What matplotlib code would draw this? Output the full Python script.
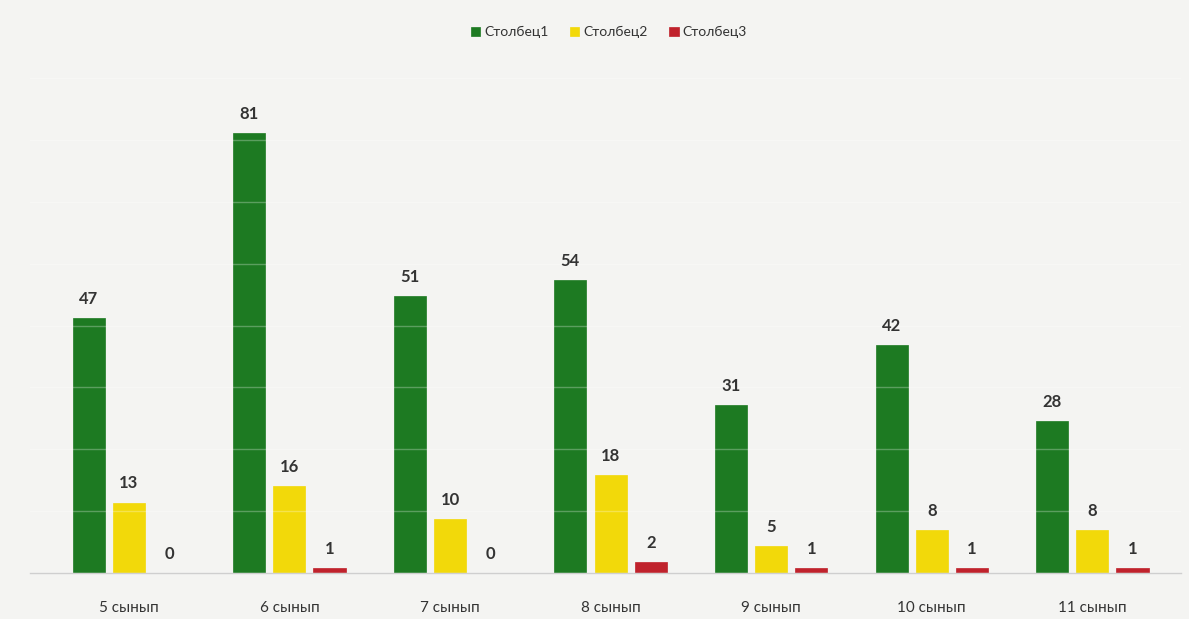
import numpy as np
import matplotlib.pyplot as plt
from matplotlib.ticker import MultipleLocator

categories = ["5 сынып", "6 сынып", "7 сынып", "8 сынып", "9 сынып", "10 сынып", "11 сынып"]
col1 = [47, 81, 51, 54, 31, 42, 28]
col2 = [13, 16, 10, 18, 5, 8, 8]
col3 = [0, 1, 0, 2, 1, 1, 1]
series_names = ["Столбец1", "Столбец2", "Столбец3"]
colors = ["#1d7a22", "#f2d90a", "#c0222c"]

plt.rcParams['font.family'] = ['Lato', 'DejaVu Sans']

fig = plt.figure(figsize=(11.89, 6.19), dpi=100)
fig.patch.set_facecolor("#f4f4f2")
ax = fig.add_axes([0.025, 0.074, 0.968, 0.829])
ax.set_facecolor("#f4f4f2")

x = np.arange(len(categories))
width = 0.2
offset = 0.25

for i, (vals, name, c) in enumerate(zip([col1, col2, col3], series_names, colors)):
    bars = ax.bar(x + (i - 1) * offset, vals, width, color=c, label=name, zorder=2,
                  edgecolor=c, linewidth=0.5)
    for b, v in zip(bars, vals):
        ax.annotate(str(v), (b.get_x() + b.get_width() / 2, b.get_height()),
                    xytext=(0, 8), textcoords="offset points", ha="center", va="bottom",
                    fontsize=12, fontweight="bold", color="#333333")

# faint gridlines show through the bars
ax.yaxis.set_major_locator(MultipleLocator(11.4))
ax.grid(axis="y", color="white", alpha=0.28, linewidth=1, zorder=3)
ax.set_axisbelow(False)

ax.set_xlim(-0.617, 6.55)
ax.set_ylim(0, 94.5)
ax.set_xticks(x, categories)
ax.tick_params(axis="x", length=0, pad=20, labelsize=11, labelcolor="#333333")
ax.tick_params(axis="y", left=False, labelleft=False)
for s in ["top", "right", "left"]:
    ax.spines[s].set_visible(False)
ax.spines["bottom"].set_color("#cfcfcf")
ax.spines["bottom"].set_linewidth(1)

fig.legend(loc="upper center", bbox_to_anchor=(0.512, 0.978), ncol=3, frameon=False,
           fontsize=10, handlelength=0.7, handleheight=0.7, handletextpad=0.3,
           columnspacing=1.5, labelcolor="#333333")

fig.savefig("out.png", dpi=100, facecolor=fig.get_facecolor())
